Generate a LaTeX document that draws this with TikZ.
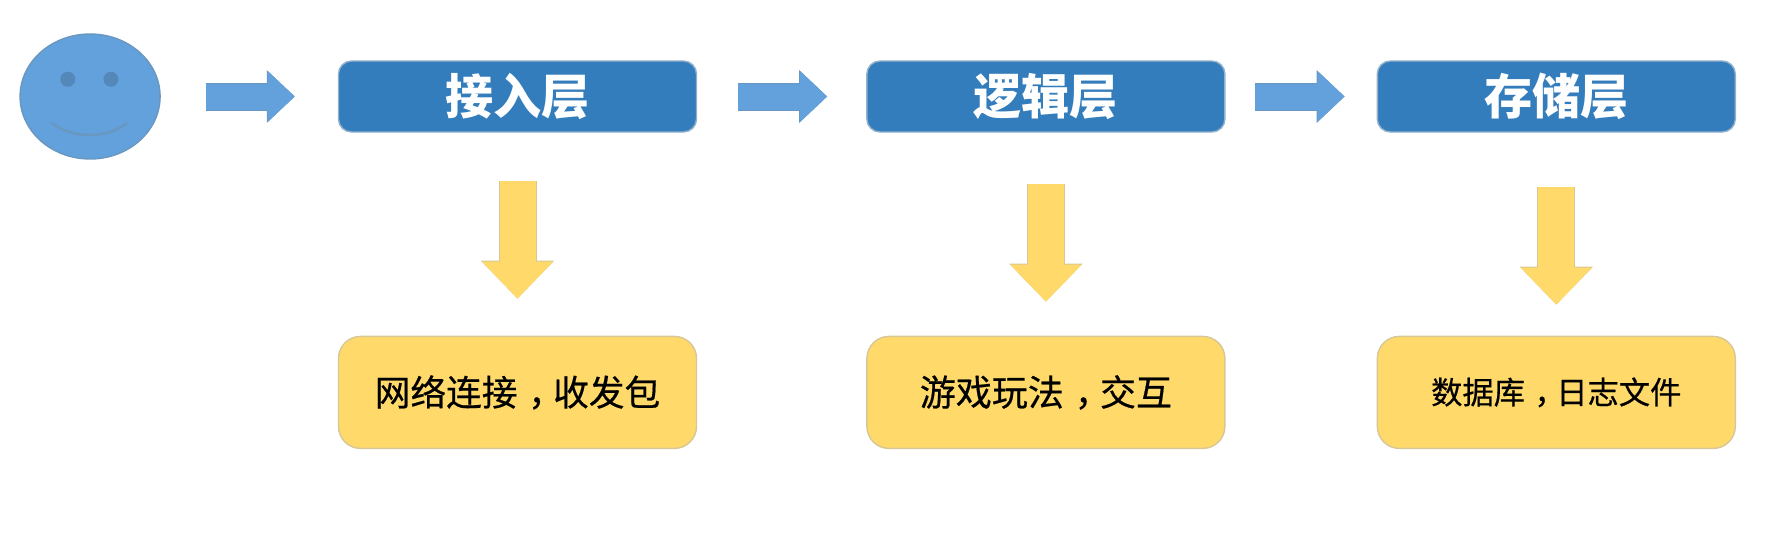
\documentclass[tikz,border=0pt]{standalone}
\usepackage{fontspec}
\usepackage{xcolor}
\usepackage{tikz}
\usetikzlibrary{shapes.geometric,arrows.meta,positioning}
\newfontfamily\cjk{Noto Sans CJK SC}
\newfontfamily\cjkmid[FakeBold=0.5]{Noto Sans CJK SC}
\newcommand{\midcomma}{\kern0.3em，\kern-0.3em}
\definecolor{faceblue}{HTML}{62A1DC}
\definecolor{faceline}{HTML}{6A97C0}
\definecolor{eyeblue}{HTML}{5488B8}
\definecolor{layerblue}{HTML}{337DBD}
\definecolor{jobyellow}{HTML}{FFDA6B}
\definecolor{jobline}{HTML}{D8C796}

\begin{document}
\begin{tikzpicture}[
  layerbox/.style={draw=layerblue!70!gray!60, line width=0.4pt, rectangle, rounded corners=0.13cm, minimum width=3.58cm, minimum height=0.71cm, fill=layerblue, text=white, font=\cjk\fontsize{13.7pt}{15pt}\selectfont\bfseries},
  jobbox/.style={draw=jobline, line width=0.4pt, rectangle, rounded corners=0.22cm, minimum width=3.58cm, minimum height=1.12cm, fill=jobyellow, text=black},
  jobtext/.style={font=\cjkmid\fontsize{#1}{14pt}\selectfont},
  bluearrow/.style={preaction={draw=faceline, line width=0.28cm, -{Triangle[length=0.28cm, width=0.51cm]}}, draw=faceblue, line width=0.26cm, -{Triangle[length=0.27cm, width=0.49cm]}},
  yellowarrow/.style={preaction={draw=jobline, line width=0.38cm, -{Triangle[length=0.38cm, width=0.71cm]}}, draw=jobyellow, line width=0.36cm, -{Triangle[length=0.37cm, width=0.69cm]}}
]
\useasboundingbox (0,0) rectangle (17.83,5.56);

% Layers
\node[layerbox] (access) at (5.175,4.595) {接入层};
\node[layerbox, right=1.69cm of access] (logic) {逻辑层};
\node[layerbox, right=1.51cm of logic] (storage) {存储层};

% Jobs of each layer
\node[jobbox, jobtext=10.15pt, below=2.03cm of access] (accessjob) {网络连接\midcomma 收发包};
\node[jobbox, jobtext=10.25pt, below=2.03cm of logic] (logicjob) {游戏玩法\midcomma 交互};
\node[jobbox, jobtext=8.9pt, below=2.03cm of storage] (storagejob) {数据库\midcomma 日志文件};

% Player
\node[draw=faceline, line width=0.4pt, ellipse, minimum width=1.40cm, minimum height=1.25cm, fill=faceblue, left=1.77cm of access] (face) {};
\node[circle, minimum size=0.15cm, inner sep=0pt, fill=eyeblue, above left=0.115cm and 0.165cm of face.center] (lefteye) {};
\node[circle, minimum size=0.15cm, inner sep=0pt, fill=eyeblue, above right=0.115cm and 0.15cm of face.center] (righteye) {};
\coordinate (smileleft) at (0.52,4.33);
\coordinate (smileright) at (1.27,4.33);
\draw[faceline, line width=0.7pt] (smileleft) .. controls (0.72,4.17) and (1.07,4.17) .. (smileright);

% Arrows
\draw[bluearrow, shorten <=0.45cm, shorten >=0.43cm] (face) -- (access);
\draw[bluearrow, shorten <=0.41cm, shorten >=0.39cm] (access) -- (logic);
\draw[bluearrow, shorten <=0.29cm, shorten >=0.32cm] (logic) -- (storage);
\draw[yellowarrow, shorten <=0.48cm, shorten >=0.37cm] (access) -- (accessjob);
\draw[yellowarrow, shorten <=0.51cm, shorten >=0.34cm] (logic) -- (logicjob);
\draw[yellowarrow, shorten <=0.54cm, shorten >=0.31cm] (storage) -- (storagejob);

\end{tikzpicture}
\end{document}
